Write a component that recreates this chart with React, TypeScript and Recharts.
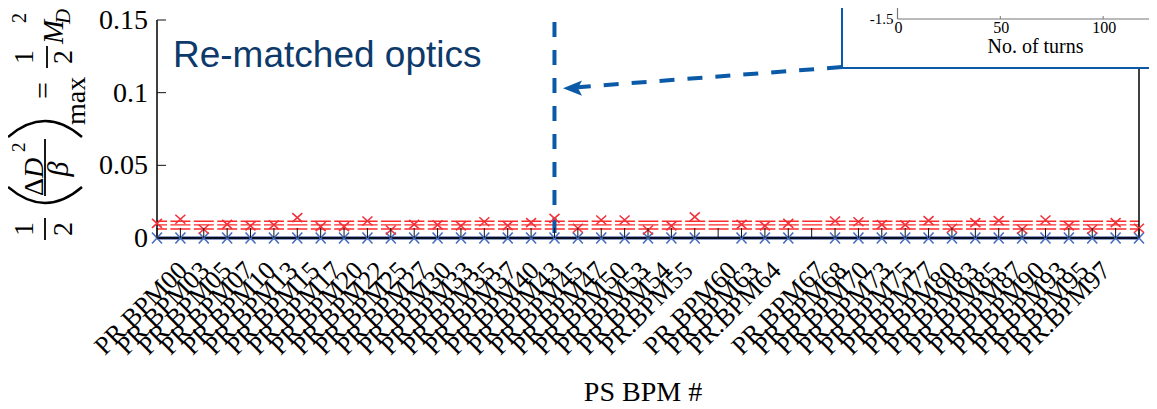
import React from 'react';
import { LineChart, Line, XAxis, YAxis, ReferenceLine } from 'recharts';

// ---- data ----
const bpmLabels = [
  'PR.BPM00', 'PR.BPM03', 'PR.BPM05', 'PR.BPM07', 'PR.BPM10', 'PR.BPM13', 'PR.BPM15', 'PR.BPM17',
  'PR.BPM20', 'PR.BPM22', 'PR.BPM25', 'PR.BPM27', 'PR.BPM30', 'PR.BPM33', 'PR.BPM35', 'PR.BPM37',
  'PR.BPM40', 'PR.BPM43', 'PR.BPM45', 'PR.BPM47', 'PR.BPM50', 'PR.BPM53', 'PR.BPM54', 'PR.BPM55',
  '', 'PR.BPM60', 'PR.BPM63', 'PR.BPM64', '', 'PR.BPM67', 'PR.BPM68', 'PR.BPM70', 'PR.BPM73',
  'PR.BPM75', 'PR.BPM77', 'PR.BPM80', 'PR.BPM83', 'PR.BPM85', 'PR.BPM87', 'PR.BPM90', 'PR.BPM93',
  'PR.BPM95', 'PR.BPM97',
];
const redValues: (number | null)[] = [
  0.0101, 0.0129, 0.006, 0.0094, 0.0083, 0.009, 0.014, 0.0078,
  0.0078, 0.0117, 0.0055, 0.0094, 0.009, 0.0083, 0.0112, 0.0085,
  0.0106, 0.0135, 0.0067, 0.0124, 0.0124, 0.0055, 0.0083, 0.0145,
  null, 0.0094, 0.0083, 0.0101, null, 0.0117, 0.0112, 0.0092, 0.009,
  0.0119, 0.0067, 0.0106, 0.0119, 0.006, 0.0124, 0.0083, 0.006,
  0.0106, 0.0067,
];
const blueValues: (number | null)[] = [
  0, 0, 0, 0, 0, 0, 0, 0,
  0, 0, 0, 0, 0, 0, 0, 0,
  0, 0, 0, 0, 0, 0, 0, 0,
  null, 0, 0, 0, null, 0, 0, 0, 0,
  0, 0, 0, 0, 0, 0, 0, 0,
  0, 0,
];
const redBands = [0.0115, 0.009, 0.0062];
const yTicks = [0, 0.05, 0.1, 0.15];
const markedBpm = 'PR.BPM43';
const insetTurns = [0, 50, 100];
const insetYTicks = [-1.5];

const data = bpmLabels.map((name, i) => ({ idx: i, name, red: redValues[i], blue: blueValues[i] }));
const xIdx = bpmLabels.map((_, i) => i);

// ---- styles ----
const SERIF = '"Liberation Serif", "Times New Roman", serif';
const SANS = '"Liberation Sans", Arial, sans-serif';
const RED = '#f0323c';
const BLUE_MARK = '#4a6fc0';
const BLUE_LINE = '#203d8a';
const ANNOT = '#0b5aa8';

const XMark = (props: any) => {
  const { cx, cy, value, color, w, h } = props;
  if (value === null || value === undefined || cx == null || cy == null) return null;
  return (
    <path
      d={`M${cx - w} ${cy - h}L${cx + w} ${cy + h}M${cx - w} ${cy + h}L${cx + w} ${cy - h}`}
      stroke={color}
      strokeWidth={1.6}
      fill="none"
    />
  );
};

const BottomTick = (props: any) => {
  const { x, y, payload } = props;
  const label = bpmLabels[payload.value] || '';
  const ax = x * 0.94 + 41.4;
  const ay = y + 34;
  return (
    <g>
      <line x1={x} y1={y} x2={x} y2={y - 10} stroke="#111" strokeWidth={1} />
      {label && (
        <text
          x={ax}
          y={ay}
          textAnchor="end"
          transform={`rotate(-45 ${ax} ${ay})`}
          fontFamily={SERIF}
          fontSize={26}
          fill="#000"
        >
          {label}
        </text>
      )}
    </g>
  );
};

const TopTick = (props: any) => {
  const { x, y } = props;
  return <line x1={x} y1={y} x2={x} y2={y + 11} stroke="#333" strokeWidth={1} />;
};

const LeftTick = (props: any) => {
  const { x, y, payload } = props;
  return (
    <g>
      <line x1={x} y1={y} x2={x + 9} y2={y} stroke="#111" strokeWidth={1} />
      <text x={x - 9} y={y + 9} textAnchor="end" fontFamily={SERIF} fontSize={28} fill="#000">
        {String(payload.value)}
      </text>
    </g>
  );
};

const RightTick = (props: any) => {
  const { x, y } = props;
  return <line x1={x} y1={y} x2={x - 9} y2={y} stroke="#111" strokeWidth={1} />;
};

const InsetXTick = (props: any) => {
  const { x, y, payload } = props;
  return (
    <g>
      <line x1={x} y1={y} x2={x} y2={y - 3} stroke="#777" strokeWidth={1} />
      <text x={x + 1} y={y + 14} textAnchor="middle" fontFamily={SERIF} fontSize={16} fill="#000">
        {String(payload.value)}
      </text>
    </g>
  );
};

const InsetYTick = (props: any) => {
  const { x, y, payload } = props;
  return (
    <text x={x - 4} y={y + 5} textAnchor="end" fontFamily={SERIF} fontSize={15} fill="#000">
      {String(payload.value)}
    </text>
  );
};

const YLabel = () => {
  // local coords: x runs up the page, y runs to the right of the page
  const frac = (lx: number, w: number, barY: number) => (
    <g>
      <text x={lx} y={-20} textAnchor="middle" fontFamily={SERIF} fontSize={28}>1</text>
      <line x1={lx - w} y1={barY} x2={lx + w} y2={barY} stroke="#000" strokeWidth={1.8} />
      <text x={lx} y={19} textAnchor="middle" fontFamily={SERIF} fontSize={28}>2</text>
    </g>
  );
  return (
    <g transform="translate(53 240) rotate(-90)" fill="#000">
      {frac(11, 11, -8)}
      <path d="M53 -45 Q21 -8 53 29" stroke="#000" strokeWidth={2.4} fill="none" />
      <text x={44} y={-10} fontFamily={SERIF} fontSize={28}>
        Δ<tspan fontStyle="italic">D</tspan>
      </text>
      <text x={88} y={-28} fontFamily={SERIF} fontSize={19}>2</text>
      <line x1={44} y1={-8} x2={101} y2={-8} stroke="#000" strokeWidth={1.8} />
      <text x={71} y={15} textAnchor="middle" fontFamily={SERIF} fontStyle="italic" fontSize={30}>β</text>
      <path d="M103 -45 Q135 -8 103 29" stroke="#000" strokeWidth={2.4} fill="none" />
      <text x={115} y={32} fontFamily={SERIF} fontSize={28}>max</text>
      <text x={141} y={0} fontFamily={SERIF} fontSize={30}>=</text>
      {frac(183, 11, -6)}
      <text x={196} y={10} fontFamily={SERIF} fontStyle="italic" fontSize={29}>M</text>
      <text x={216} y={17} fontFamily={SERIF} fontStyle="italic" fontSize={21}>D</text>
      <text x={217} y={-27} fontFamily={SERIF} fontSize={20}>2</text>
    </g>
  );
};

export default function App() {
  const markIdx = bpmLabels.indexOf(markedBpm);
  return (
    <div style={{ position: 'relative', width: 1157, height: 409, margin: -8, overflow: 'hidden', background: '#fff' }}>
      <div style={{ position: 'absolute', left: 0, top: 0 }}>
        <LineChart width={1157} height={409} data={data} margin={{ top: 20, right: 0, left: 0, bottom: 0 }}>
          <XAxis
            xAxisId="b"
            dataKey="idx"
            type="number"
            domain={[0, bpmLabels.length - 1]}
            ticks={xIdx}
            interval={0}
            height={171}
            tickSize={0}
            tickMargin={0}
            tickLine={false}
            axisLine={{ stroke: '#000', strokeWidth: 1.5 }}
            tick={<BottomTick />}
          />
          <XAxis
            xAxisId="t"
            orientation="top"
            dataKey="idx"
            type="number"
            domain={[0, bpmLabels.length - 1]}
            ticks={xIdx}
            interval={0}
            height={0}
            tickSize={0}
            tickMargin={0}
            tickLine={false}
            axisLine={{ stroke: '#888', strokeWidth: 1.2 }}
            tick={<TopTick />}
          />
          <YAxis
            yAxisId="l"
            domain={[0, 0.15]}
            ticks={yTicks}
            width={157}
            tickSize={0}
            tickMargin={0}
            tickLine={false}
            axisLine={{ stroke: '#000', strokeWidth: 1.5 }}
            tick={<LeftTick />}
          />
          <YAxis
            yAxisId="r"
            orientation="right"
            domain={[0, 0.15]}
            ticks={yTicks}
            width={18}
            tickSize={0}
            tickMargin={0}
            tickLine={false}
            axisLine={{ stroke: '#000', strokeWidth: 1.5 }}
            tick={<RightTick />}
          />
          {redBands.map((v) => (
            <ReferenceLine
              key={v}
              xAxisId="b"
              yAxisId="l"
              y={v}
              stroke="#ff2a2a"
              strokeWidth={1.4}
              strokeDasharray="20 3.4"
              strokeDashoffset={10}
            />
          ))}
          <ReferenceLine
            xAxisId="b"
            yAxisId="l"
            x={markIdx}
            stroke={ANNOT}
            strokeWidth={4}
            strokeDasharray="15 13"
            strokeDashoffset={23}
          />
          <Line
            xAxisId="b"
            yAxisId="l"
            dataKey="blue"
            stroke={BLUE_LINE}
            strokeWidth={3}
            connectNulls
            isAnimationActive={false}
            dot={<XMark color={BLUE_MARK} w={5} h={5.5} />}
          />
          <Line
            xAxisId="b"
            yAxisId="l"
            dataKey="red"
            stroke="none"
            isAnimationActive={false}
            dot={<XMark color={RED} w={5} h={4.5} />}
          />
        </LineChart>
      </div>

      <svg width={1157} height={409} style={{ position: 'absolute', left: 0, top: 0, pointerEvents: 'none' }}>
        <YLabel />
        <text x={173} y={67} fontFamily={SANS} fontSize={37} fill="#0d3a6b">Re-matched optics</text>
        <line x1={842} y1={67} x2={578} y2={87.2} stroke={ANNOT} strokeWidth={4} strokeDasharray="15 13" />
        <polygon points="563,88.3 582,80.5 578,88 582,95.8" fill={ANNOT} />
        <text x={643} y={401} textAnchor="middle" fontFamily={SERIF} fontSize={28} fill="#000">PS BPM #</text>
      </svg>

      <div
        style={{
          position: 'absolute',
          left: 841,
          top: -150,
          width: 340,
          height: 219,
          boxSizing: 'border-box',
          border: `2.5px solid ${ANNOT}`,
          background: '#fff',
        }}
      >
        <div style={{ position: 'absolute', left: 0, top: 0 }}>
          <LineChart
            width={325}
            height={214}
            data={insetTurns.map((t) => ({ turn: t }))}
            margin={{ top: 10, right: 0, left: 0, bottom: 0 }}
          >
            <XAxis
              dataKey="turn"
              type="number"
              domain={[0, 124]}
              allowDataOverflow
              ticks={insetTurns}
              height={47}
              tickSize={0}
              tickMargin={0}
              tickLine={false}
              axisLine={{ stroke: '#777', strokeWidth: 1.2 }}
              tick={<InsetXTick />}
            />
            <YAxis
              yAxisId="l"
              type="number"
              domain={[-1.5, 1.5]}
              allowDataOverflow
              ticks={insetYTicks}
              interval={0}
              width={54.5}
              tickSize={0}
              tickMargin={0}
              tickLine={false}
              axisLine={{ stroke: '#777', strokeWidth: 1.2 }}
              tick={<InsetYTick />}
            />
            <YAxis
              yAxisId="r"
              orientation="right"
              type="number"
              domain={[-1.5, 1.5]}
              allowDataOverflow
              width={15.5}
              tick={false}
              tickLine={false}
              axisLine={{ stroke: '#777', strokeWidth: 1.2 }}
            />
          </LineChart>
        </div>
        <div
          style={{
            position: 'absolute',
            left: 1036 - 843.5,
            top: 184,
            transform: 'translateX(-50%)',
            fontFamily: SERIF,
            fontSize: 20,
            whiteSpace: 'nowrap',
            lineHeight: '20px',
          }}
        >
          No. of turns
        </div>
      </div>
    </div>
  );
}
